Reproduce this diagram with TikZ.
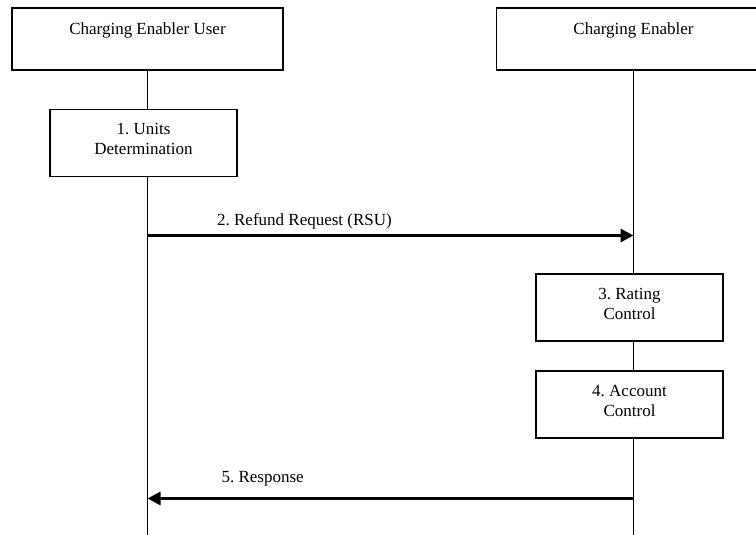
\documentclass[tikz,border=0pt]{standalone}
\usepackage{fontspec}
\setmainfont{Liberation Serif}
\frenchspacing
\usetikzlibrary{positioning, backgrounds, arrows.meta}

\begin{document}
\begin{tikzpicture}[x=1pt, y=-1pt, on grid, font=\fontsize{17}{20}\selectfont,
    actor/.style={draw, line width=1.3pt, fill=white, minimum width=271pt, minimum height=62pt, align=center},
    stepbox/.style={draw, line width=1.3pt, fill=white, minimum width=187pt, minimum height=67pt, align=center, text depth=8pt},
    msg/.style={line width=3pt, -{Triangle[length=13pt, width=13pt]}},
    lifeline/.style={line width=0.9pt}]
        \useasboundingbox (0,0) rectangle (756,535);
        % actors
        \node[actor]   (ceu) at (147.5,39)                  {Charging Enabler User\\ \mbox{}};
        \node[actor, minimum width=274pt] (ce) [right=486pt of ceu] {Charging Enabler\\ \mbox{}};
        % steps
        \node[stepbox] (ud) [below=104pt of ceu, xshift=-4pt]  {1. Units\\Determination};
        \node[stepbox] (rc) [below=268.5pt of ce, xshift=-4pt] {3. Rating\\Control};
        \node[stepbox] (ac) [below=97pt of rc]                 {4. Account\\Control};
        % lifeline ends and message ends
        \coordinate (ceu foot)  at (147.5,535);
        \coordinate (ce foot)   at (633.5,535);
        \coordinate (req from)  at (147.5,235.5);
        \coordinate (req to)    at (633.5,235.5);
        \coordinate (resp from) at (633.5,498.5);
        \coordinate (resp to)   at (147.5,498.5);
        \begin{scope}[on background layer]
          \draw[lifeline] (ceu.south) -- (ceu foot);
          \draw[lifeline] (ce.south)  -- (ce foot);
        \end{scope}
        \draw[msg] (req from)  -- node[pos=0.323, anchor=base, yshift=10pt] (req label)  {2. Refund Request (RSU)} (req to);
        \draw[msg] (resp from) -- node[pos=0.763, anchor=base, yshift=16pt] (resp label) {5. Response} (resp to);
\end{tikzpicture}
\end{document}
